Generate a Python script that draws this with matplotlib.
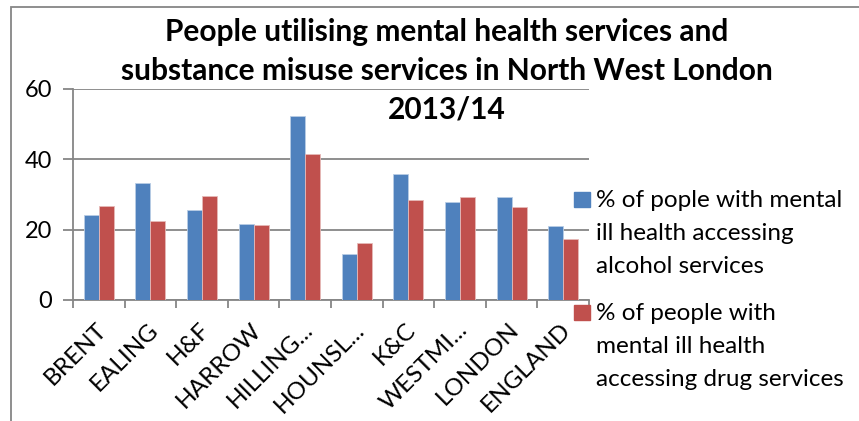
import matplotlib
matplotlib.use("Agg")
import matplotlib.pyplot as plt
import numpy as np
from matplotlib.patches import Rectangle

categories = ["BRENT", "EALING", "H&F", "HARROW", "HILLING...", "HOUNSL...",
              "K&C", "WESTMI...", "LONDON", "ENGLAND"]
alcohol = [24.1, 33.1, 25.6, 21.6, 52.3, 13.0, 35.8, 27.7, 29.3, 21.0]
drugs = [26.6, 22.4, 29.5, 21.3, 41.4, 16.2, 28.5, 29.3, 26.3, 17.2]
series_labels = ["% of pople with mental\nill health accessing\nalcohol services",
                 "% of people with\nmental ill health\naccessing drug services"]
title = "People utilising mental health services and\nsubstance misuse services in North West London\n2013/14"
yticks = [0, 20, 40, 60]

BLUE = "#4F81BD"
RED = "#C0504D"
GRID = "#868686"
FONT = "Lato"

W, H = 859, 421
fig = plt.figure(figsize=(W / 100, H / 100), dpi=100)
fig.patch.set_facecolor("white")


def fy(py):
    """Pixel row (from top) to figure fraction."""
    return 1 - py / H


# chart-area frame
fig.patches.append(Rectangle((11 / W, -0.1), 1.2, fy(7) + 0.1, transform=fig.transFigure,
                             fill=False, edgecolor=GRID, linewidth=1.3))

ax = fig.add_axes([73 / W, fy(300), (589 - 73) / W, (300 - 88.7) / H])
x = np.arange(len(categories))
bw = 0.29
ax.bar(x - bw / 2, alcohol, bw, color=BLUE, edgecolor="#B9CDE5", linewidth=0.6, zorder=3)
ax.bar(x + bw / 2, drugs, bw, color=RED, edgecolor="#E6B9B8", linewidth=0.6, zorder=3)

ax.set_xlim(-0.5, len(categories) - 0.5)
ax.set_ylim(0, 60)
ax.set_yticks(yticks)
ax.set_yticklabels([str(v) for v in yticks], fontsize=17, family=FONT)
ax.yaxis.grid(True, color=GRID, linewidth=1.3, zorder=0)
ax.tick_params(axis="y", length=7, width=1.3, color=GRID, pad=8)

ax.set_xticks(np.arange(len(categories) + 1) - 0.5)
ax.set_xticklabels([])
ax.tick_params(axis="x", length=6, width=1.3, color=GRID)
for i, c in enumerate(categories):
    ax.annotate(c, xy=(i, 0), xycoords=("data", "axes fraction"),
                xytext=(3, -19), textcoords="offset points",
                rotation=45, ha="right", va="center", rotation_mode="anchor",
                fontsize=17.5, family=FONT)

for s in ["top", "right"]:
    ax.spines[s].set_visible(False)
for s in ["left", "bottom"]:
    ax.spines[s].set_color(GRID)
    ax.spines[s].set_linewidth(1.3)

# title, one line at a time
for j, line in enumerate(title.split("\n")):
    fig.text(447 / W, fy(41 + 39 * j), line, ha="center", va="baseline",
             fontsize=21.5, fontweight="bold", family=FONT)

# legend
legend_base = [207, 320]
for lab, col, base in zip(series_labels, [BLUE, RED], legend_base):
    fig.patches.append(Rectangle((574 / W, fy(base)), 15.5 / W, 15 / H,
                                 transform=fig.transFigure, color=col, zorder=5))
    for j, line in enumerate(lab.split("\n")):
        fig.text(596 / W, fy(base + 33 * j), line, ha="left", va="baseline",
                 fontsize=17.5, family=FONT, zorder=6,
                 bbox=dict(facecolor="white", edgecolor="none", pad=1))

fig.savefig("out.png", dpi=100)
